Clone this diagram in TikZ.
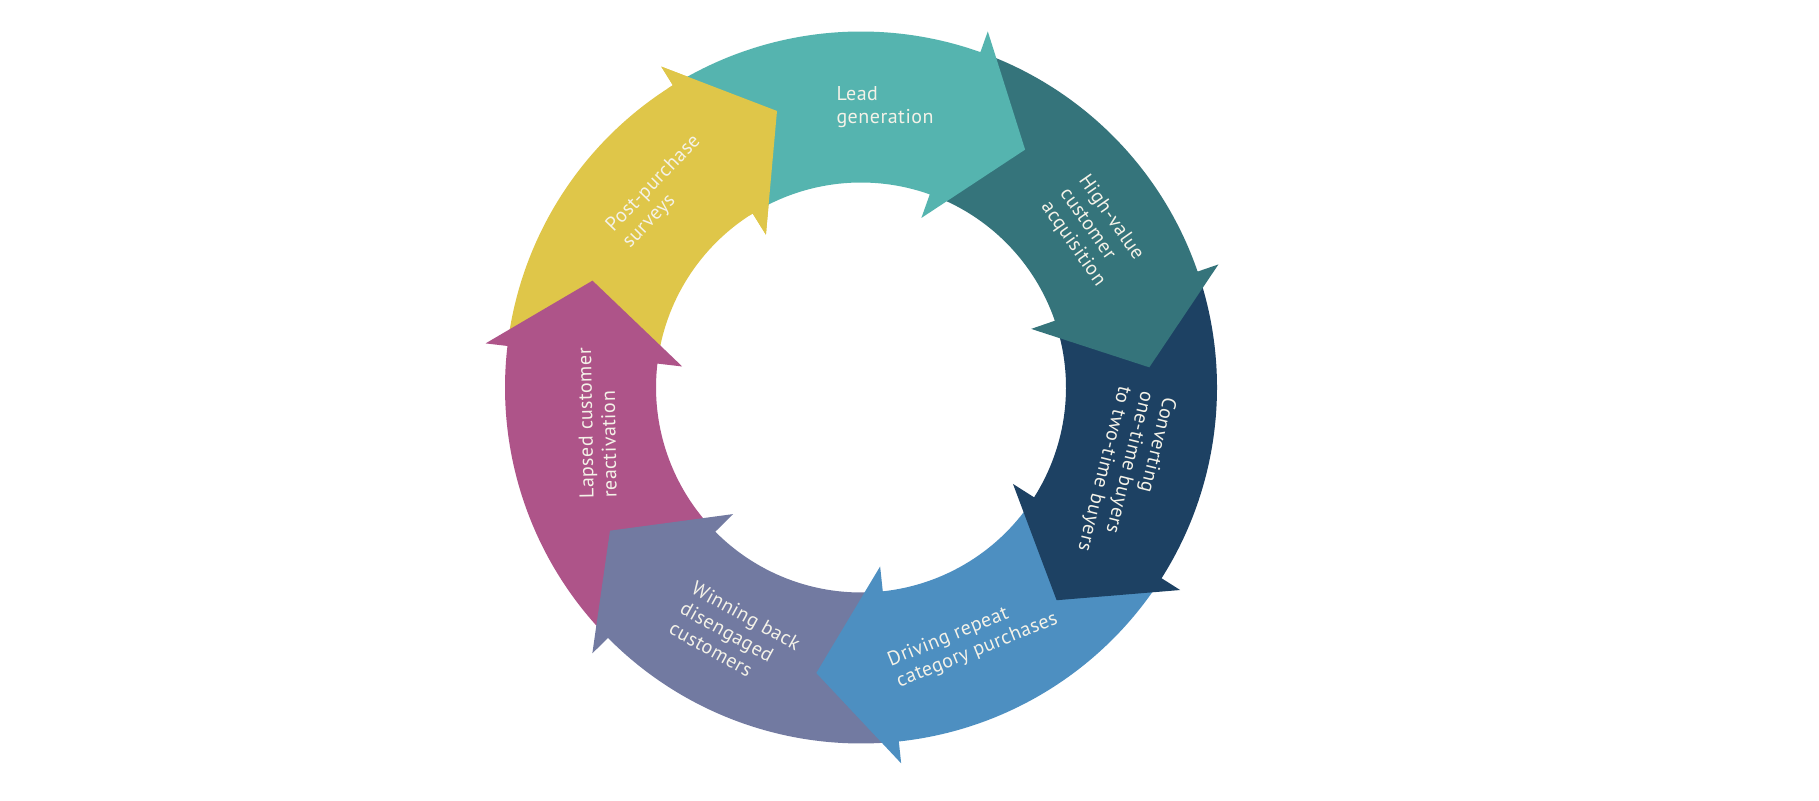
\documentclass[tikz,border=0pt]{standalone}
\usepackage{fontspec}
\setmainfont[LetterSpace=2.5]{PT Sans}
\definecolor{cLead}{HTML}{55B4AF}
\definecolor{cHigh}{HTML}{35747B}
\definecolor{cConv}{HTML}{1D4163}
\definecolor{cDrive}{HTML}{4D8FC1}
\definecolor{cWin}{HTML}{727AA1}
\definecolor{cLapse}{HTML}{AE5489}
\definecolor{cPost}{HTML}{DFC649}
\definecolor{cText}{HTML}{F4F2E8}
\newcommand\ringseg[3]{%
  \fill[#3] (#1:356) arc[start angle=#1, end angle=#2, radius=356pt]
    -- (#2:378) -- ({#2-15}:289) -- (#2:180) -- (#2:205)
    arc[start angle=#2, end angle=#1, radius=205pt] -- cycle;}
\newcommand\ringhead[2]{%
  \fill[#2] ({#1+1}:356) -- (#1:356) -- (#1:378) -- ({#1-15}:289) -- (#1:180) -- (#1:205) -- ({#1+1}:205) -- cycle;}
\tikzset{lbl/.style={text=cText, font=\fontsize{20}{23}\selectfont, inner sep=0pt, align=left}}
\begin{document}
\begin{tikzpicture}[x=1pt,y=1pt]
\useasboundingbox (0,0) rectangle (1819,800);
\fill[white] (0,0) rectangle (1819,800);
\begin{scope}[shift={(861,412.5)}]
\ringseg{-186.7}{-238.1}{cPost}
\ringseg{-135.3}{-186.7}{cLapse}
\ringseg{-83.9}{-135.3}{cWin}
\ringseg{-32.4}{-83.9}{cDrive}
\ringseg{19.0}{-32.4}{cConv}
\ringseg{70.4}{19.0}{cHigh}
\ringseg{121.9}{70.4}{cLead}
\ringhead{-238.1}{cPost}
\end{scope}
\node[lbl] (lead) at (885,693) {Lead\\generation};
\node[lbl, rotate=-55] (high) at (1092,569) {High-value\\customer\\acquisition};
\node[lbl, rotate=-104] (conv) at (1126,326) {Converting\\one-time buyers\\to two-time buyers};
\node[lbl, rotate=22] (drive) at (973,160) {Driving repeat\\category purchases};
\node[lbl, rotate=-29] (win) at (735,164) {Winning back\\disengaged\\customers};
\node[lbl, rotate=91] (lapse) at (597,377) {Lapsed customer\\reactivation};
\node[lbl, rotate=46] (post) at (662,608) {Post-purchase\\surveys};
\end{tikzpicture}
\end{document}
